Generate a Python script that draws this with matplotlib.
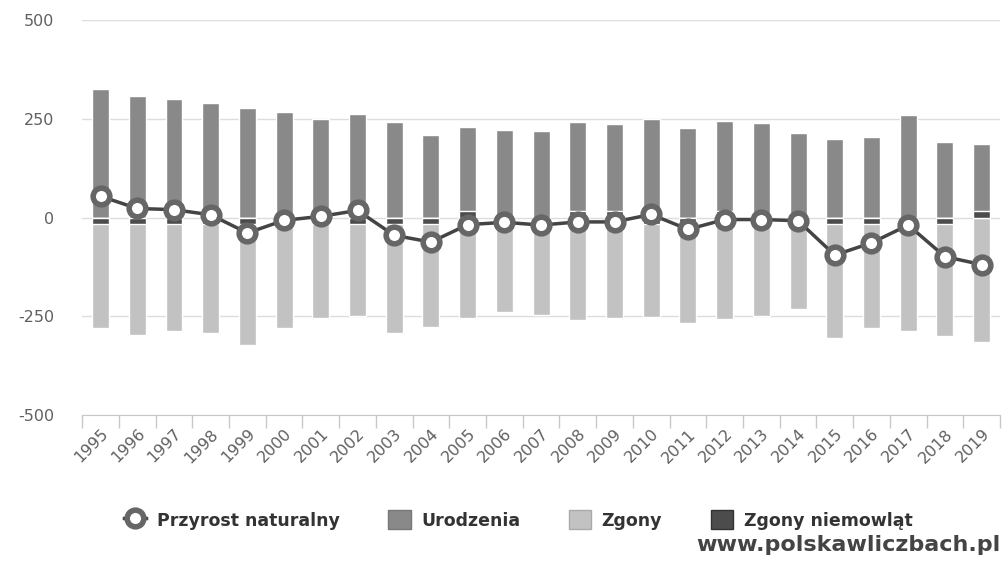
import numpy as np
import matplotlib
matplotlib.use("Agg")
import matplotlib.pyplot as plt
from matplotlib.ticker import FixedLocator, FuncFormatter
from matplotlib.lines import Line2D
from matplotlib.patches import Patch

plt.rcParams['font.family'] = ['DejaVu Sans']

years = [str(y) for y in range(1995, 2020)]
urodzenia = [326, 308, 300, 290, 277, 268, 250, 263, 242, 208, 228, 221, 220,
             242, 237, 249, 227, 245, 240, 213, 200, 205, 260, 192, 186]
zgony = [-279, -297, -288, -293, -322, -279, -254, -250, -293, -276, -254, -238,
         -247, -260, -255, -252, -266, -257, -249, -231, -305, -279, -288, -300, -315]
# 0 = brak zgonow niemowlat (slupek rysowany w gore, jak minPointLength w highcharts)
niemowlat = [1, 1, 1, 1, 1, 1, 1, 1, 1, 1, 0, 1, 1, 0, 0, 1, 1, 0, 1, 1, 1, 1, 1, 1, 0]
przyrost = [54, 23, 20, 7, -39, -7, 3, 18, -45, -62, -18, -12, -19, -11, -11, 8,
            -30, -5, -5, -8, -95, -64, -19, -99, -119]

MIN_LEN = 16  # minimalna wysokosc slupka w jednostkach osi

c_ur = '#898989'
c_zg = '#c2c2c2'
c_ni = '#4c4c4c'
c_line = '#444444'

x = np.arange(len(years))
w = 0.46

fig = plt.figure(figsize=(10.02, 5.64), dpi=100)
ax = fig.add_axes([0.082, 0.264, 0.916, 0.7005])

ax.bar(x, urodzenia, w, color=c_ur, edgecolor='white', linewidth=1.0, zorder=2)
ax.bar(x, zgony, w, color=c_zg, edgecolor='white', linewidth=1.0, zorder=2)
ni_h = [-max(v, 1) * MIN_LEN if v > 0 else MIN_LEN for v in niemowlat]
ax.bar(x, ni_h, w, color=c_ni, edgecolor='white', linewidth=1.0, zorder=3)

ax.plot(x, przyrost, color=c_line, lw=2.5, marker='o', ms=12,
        mfc='white', mec='#666666', mew=4, zorder=5)

ax.set_xlim(-0.5, len(years) - 0.5)
ax.set_ylim(-500, 500)
ax.set_yticks([-500, -250, 0, 250, 500])
ax.yaxis.set_major_formatter(FuncFormatter(lambda v, p: '%d' % v))
ax.grid(axis='y', color='#dddddd', lw=1, zorder=0)
ax.tick_params(axis='y', length=0, labelsize=11.5, colors='#606060', pad=20)

ax.set_xticks(x)
ax.set_xticklabels(years, rotation=45, ha='right', rotation_mode='anchor',
                   fontsize=11.5, color='#606060')
ax.tick_params(axis='x', which='major', length=0, pad=8)
ax.xaxis.set_minor_locator(FixedLocator(np.arange(-0.5, len(years), 1.0)))
ax.tick_params(axis='x', which='minor', length=9, color='#c8c8c8', width=1)

for s in ['top', 'right', 'left']:
    ax.spines[s].set_visible(False)
ax.spines['bottom'].set_color('#c8c8c8')

handles = [
    Line2D([], [], color=c_line, lw=2.5, marker='o', ms=12, mfc='white',
           mec='#666666', mew=4),
    Patch(facecolor=c_ur, edgecolor='#777777'),
    Patch(facecolor=c_zg, edgecolor='#aaaaaa'),
    Patch(facecolor=c_ni, edgecolor='#333333'),
]
labels = ['Przyrost naturalny', 'Urodzenia', 'Zgony', 'Zgony niemowląt']
leg = fig.legend(handles, labels, loc='center', bbox_to_anchor=(0.517, 0.078),
                 ncol=4, frameon=False, handlelength=1.3, handleheight=1.3,
                 columnspacing=2.8, handletextpad=0.6,
                 prop={'weight': 'bold', 'size': 12.5})
for t in leg.get_texts():
    t.set_color('#333333')

fig.text(0.998, 0.033, 'www.polskawliczbach.pl', ha='right', va='center',
         fontsize=16, fontweight='bold', color='#444444')

fig.savefig('out.png', dpi=100)
